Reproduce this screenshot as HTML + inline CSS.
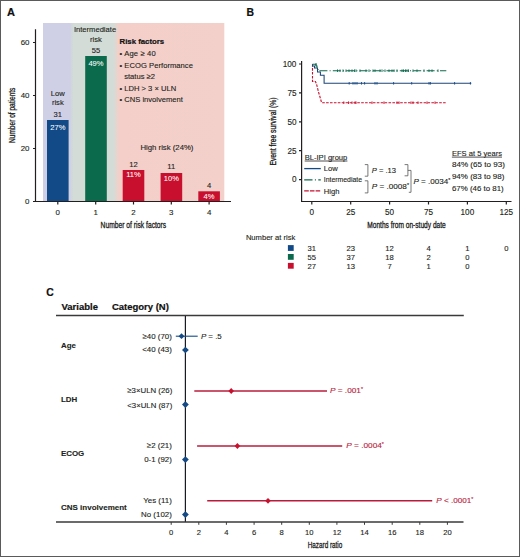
<!DOCTYPE html>
<html><head><meta charset="utf-8"><style>
html,body{margin:0;padding:0;background:#fff;}
svg{display:block;}
text{font-family:"Liberation Sans",sans-serif;fill:#231f20;stroke:#231f20;stroke-width:0.12px;}
.w{fill:#fff;stroke:#fff;stroke-width:0.05px;}
.r{fill:#b81c3c;stroke:#b81c3c;}
.cd{stroke-width:0.3px;fill:#1a1a1a;stroke:#1a1a1a;font-size:9px !important;}
.b{font-weight:bold;fill:#111;stroke:#111;stroke-width:0.2px;}
.t7{font-size:7.6px;}
.t8{font-size:7.9px;}
.w{fill:#fff;}
.ax{stroke:#231f20;stroke-width:1.2;fill:none;}
</style></head><body>
<svg width="520" height="557" viewBox="0 0 520 557">
<defs>
<linearGradient id="bg" x1="43" x2="224.3" y1="0" y2="0" gradientUnits="userSpaceOnUse">
<stop offset="0" stop-color="#cfd0e6"/>
<stop offset="0.148" stop-color="#cfd0e6"/>
<stop offset="0.168" stop-color="#d3dcd6"/>
<stop offset="0.39" stop-color="#d3dcd6"/>
<stop offset="0.418" stop-color="#f4cfc9"/>
<stop offset="1" stop-color="#f4d0ca"/>
</linearGradient>
</defs>
<rect x="0.5" y="0.5" width="519" height="556" fill="#fff" stroke="#5a5a5a" stroke-width="1"/>

<!-- ============ PANEL A ============ -->
<text x="6.9" y="16.2" class="b" style="font-size:11px">A</text>
<rect x="43" y="23" width="181.3" height="178.5" fill="url(#bg)"/>
<!-- bars -->
<rect x="47" y="120" width="21.6" height="81.5" fill="#124a88"/>
<rect x="85.2" y="56" width="21.6" height="145.5" fill="#0c6a4c"/>
<rect x="122.7" y="170" width="21.6" height="31.5" fill="#c8102e"/>
<rect x="160.6" y="173" width="21.6" height="28.5" fill="#c8102e"/>
<rect x="198.3" y="191.3" width="21.6" height="10.2" fill="#c8102e"/>
<!-- axes -->
<path class="ax" d="M35.5,29.3 V201.5 H231 M33,42.5 H35.5 M33,95.5 H35.5 M33,148.5 H35.5 M33,201.5 H35.5 M57.8,201.5 V204.5 M95.7,201.5 V204.5 M133.5,201.5 V204.5 M171.3,201.5 V204.5 M209.1,201.5 V204.5"/>
<g class="t8" text-anchor="end">
<text x="29.5" y="45.3">60</text>
<text x="29.5" y="98.3">40</text>
<text x="29.5" y="151.3">20</text>
<text x="29.5" y="204.3">0</text>
</g>
<g class="t8" text-anchor="middle">
<text x="57.8" y="214.5">0</text>
<text x="95.7" y="214.5">1</text>
<text x="133.5" y="214.5">2</text>
<text x="171.3" y="214.5">3</text>
<text x="209.1" y="214.5">4</text>
<text x="133.4" y="227.7" style="font-size:8.6px" textLength="65.6" lengthAdjust="spacingAndGlyphs" class="cd">Number of risk factors</text>
<text transform="translate(15,115.3) rotate(-90)" x="0" y="0" style="font-size:8.6px" textLength="55.4" lengthAdjust="spacingAndGlyphs" class="cd">Number of patients</text>
</g>
<g class="t7" text-anchor="middle">
<text x="57.8" y="95.8">Low</text>
<text x="57.8" y="105.4">risk</text>
<text x="57.8" y="116.9">31</text>
<text x="57.8" y="129.5" class="w">27%</text>
<text x="95" y="32.1">Intermediate</text>
<text x="96" y="41.7">risk</text>
<text x="96" y="52.9">55</text>
<text x="96" y="65.6" class="w">49%</text>
<text x="133.5" y="166.7">12</text>
<text x="133.5" y="177.3" class="w">11%</text>
<text x="171.3" y="169.3">11</text>
<text x="171.3" y="181.1" class="w">10%</text>
<text x="209.1" y="188">4</text>
<text x="209.1" y="199" class="w">4%</text>
</g>
<text x="140.5" y="149.8" class="t7" textLength="52.9" lengthAdjust="spacingAndGlyphs">High risk (24%)</text>
<text x="119.5" y="44.2" class="b" style="font-size:7.8px">Risk factors</text>
<g class="t7">
<text x="119.5" y="56" textLength="36.2" lengthAdjust="spacing">• Age ≥ 40</text>
<text x="119.5" y="67.7" textLength="73.4" lengthAdjust="spacing">• ECOG Performance</text>
<text x="124.2" y="79.3">status ≥2</text>
<text x="119.5" y="90.9">• LDH &gt; 3 × ULN</text>
<text x="119.5" y="102.3">• CNS involvement</text>
</g>

<!-- ============ PANEL B ============ -->
<text x="246.6" y="16.3" class="b" style="font-size:10.4px">B</text>
<path class="ax" d="M301.6,61 V201.5 H511.5 M299,64 H301.6 M299,92.9 H301.6 M299,121.8 H301.6 M299,150.7 H301.6 M299,179.6 H301.6 M311.8,201.5 V204.5 M350.7,201.5 V204.5 M389.6,201.5 V204.5 M428.5,201.5 V204.5 M467.4,201.5 V204.5 M506.3,201.5 V204.5"/>
<g class="t8" text-anchor="end" style="font-size:8.2px">
<text x="296.3" y="66.9">100</text>
<text x="296.5" y="95.7">75</text>
<text x="296.5" y="124.6">50</text>
<text x="296.5" y="153.5">25</text>
<text x="296.5" y="182.4">0</text>
</g>
<g class="t8" text-anchor="middle" style="font-size:8.2px">
<text x="311.8" y="214.6">0</text>
<text x="350.7" y="214.5">25</text>
<text x="389.6" y="214.5">50</text>
<text x="428.5" y="214.5">75</text>
<text x="467.4" y="214.5">100</text>
<text x="506.3" y="214.5">125</text>
<text x="406.5" y="227.5" style="font-size:8.6px" textLength="78.5" lengthAdjust="spacingAndGlyphs" class="cd">Months from on-study date</text>
<text transform="translate(276.4,131.6) rotate(-90)" x="0" y="0" style="font-size:8.6px" textLength="68" lengthAdjust="spacingAndGlyphs" class="cd">Event free survival (%)</text>
</g>
<!-- KM curves -->
<path d="M312.5,64.2 V81.5 H315.4 L316.5,84 L317.5,88 L318.5,92 L320,97 L321.6,102.7 H446.3" fill="none" stroke="#c8102e" stroke-width="1.1" stroke-dasharray="2.6,1.3"/>
<path d="M312.5,64.2 V66 H314.5 V68 H317.5 V72 H320.4 V75.3 H324.1 V83.3 H471.3" fill="none" stroke="#1c4479" stroke-width="1.05"/>
<path d="M312.5,64.2 H316 V66 H317 V68.5 H318 V70.7 H446.3" fill="none" stroke="#0c6a4c" stroke-width="1.1" stroke-dasharray="8,2.2,1,2.2"/>
<!-- censor marks -->
<g stroke="#124a88" stroke-width="0.9">
<path d="M349.2,82 V84.6 M353,82 V84.6 M355,82 V84.6 M357,82 V84.6 M361.5,82 V84.6 M364.6,82 V84.6 M375,82 V84.6 M377,82 V84.6 M393.6,82 V84.6 M411.7,82 V84.6 M429,82 V84.6 M430.4,82 V84.6 M454.6,82 V84.6 M470.4,82 V84.6"/>
</g>
<g stroke="#0c6a4c" stroke-width="0.9">
<path d="M316,63 V66 M337.5,69.4 V72 M340,69.4 V72 M343,69.4 V72 M346,69.4 V72 M349,69.4 V72 M352,69.4 V72 M354.5,69.4 V72 M356,69.4 V72 M360,69.4 V72 M366,69.4 V72 M369,69.4 V72 M373,69.4 V72 M375,69.4 V72 M380,69.4 V72 M382,69.4 V72 M385,69.4 V72 M389,69.4 V72 M392,69.4 V72 M394,69.4 V72 M397,69.4 V72 M402,69.4 V72 M403.5,69.4 V72 M405.5,69.4 V72 M407,69.4 V72 M408.5,69.4 V72 M413,69.4 V72 M417,69.4 V72 M424,69.4 V72 M429,69.4 V72 M432,69.4 V72 M438,69.4 V72"/>
</g>
<g stroke="#c8102e" stroke-width="0.9">
<path d="M343.8,101.4 V104 M348.5,101.4 V104 M352,101.4 V104 M355,101.4 V104 M356,101.4 V104 M372,101.4 V104 M384,101.4 V104 M397,101.4 V104 M399,101.4 V104 M411,101.4 V104 M413,101.4 V104 M418,101.4 V104 M427,101.4 V104 M435,101.4 V104"/>
</g>
<!-- legend -->
<text x="304.7" y="160" class="t7">BL-IPI group</text>
<path d="M304.7,161 H347.4" stroke="#231f20" stroke-width="0.8"/>
<path d="M304.2,168.6 H320.8" stroke="#124a88" stroke-width="1.3"/>
<path d="M304.2,179.8 H320.8" stroke="#0c6a4c" stroke-width="1.3" stroke-dasharray="8.3,2.4,1,2.4"/>
<path d="M304.2,190.9 H320.8" stroke="#c8102e" stroke-width="1.3" stroke-dasharray="4.6,1.1"/>
<g class="t7">
<text x="323.8" y="170.6">Low</text>
<text x="323.8" y="182.2" textLength="38.2" lengthAdjust="spacingAndGlyphs">Intermediate</text>
<text x="323.8" y="193.6">High</text>
</g>
<g fill="none" stroke="#555" stroke-width="0.8">
<path d="M364.8,164.6 H367.9 V176.2 H364.8"/>
<path d="M364.8,180.8 H367.9 V192.9 H364.8"/>
<path d="M404.6,164.6 H407.9 V175.8 H404.6 M407.9,170.4 H411 V192.3 H408.8"/>
</g>
<g class="t7">
<text x="371.7" y="172.5"><tspan font-style="italic">P</tspan> = .13</text>
<text x="371.7" y="188.8" textLength="37.3" lengthAdjust="spacingAndGlyphs"><tspan font-style="italic">P</tspan> = .0008<tspan dy="-2" font-size="5">*</tspan></text>
<text x="413.4" y="183.8" textLength="36.9" lengthAdjust="spacingAndGlyphs"><tspan font-style="italic">P</tspan> = .0034<tspan dy="-2" font-size="5">*</tspan></text>
<text x="451.9" y="156.2">EFS at 5 years</text>
<text x="451.9" y="167.2" textLength="53" lengthAdjust="spacingAndGlyphs">84% (65 to 93)</text>
<text x="451.9" y="179.2" textLength="52.5" lengthAdjust="spacingAndGlyphs">94% (83 to 98)</text>
<text x="451.9" y="191.2" textLength="51.8" lengthAdjust="spacingAndGlyphs">67% (46 to 81)</text>
</g>
<path d="M451.9,157.1 H502" stroke="#231f20" stroke-width="0.8"/>
<!-- number at risk -->
<text x="245.9" y="240.2" class="t7">Number at risk</text>
<rect x="287.9" y="245.1" width="5.8" height="5.8" fill="#124a88"/>
<rect x="287.9" y="254" width="5.8" height="5.8" fill="#0c6a4c"/>
<rect x="287.9" y="262.9" width="5.8" height="5.8" fill="#c8102e"/>
<g class="t7" text-anchor="middle">
<text x="311.8" y="250.6">31</text><text x="350.7" y="250.6">23</text><text x="389.6" y="250.6">12</text><text x="428.5" y="250.6">4</text><text x="467.4" y="250.6">1</text><text x="506.3" y="250.6">0</text>
<text x="311.8" y="259.5">55</text><text x="350.7" y="259.5">37</text><text x="389.6" y="259.5">18</text><text x="428.5" y="259.5">2</text><text x="467.4" y="259.5">0</text>
<text x="311.8" y="268.5">27</text><text x="350.7" y="268.5">13</text><text x="389.6" y="268.5">7</text><text x="428.5" y="268.5">1</text><text x="467.4" y="268.5">0</text>
</g>

<!-- ============ PANEL C ============ -->
<text x="46.2" y="295.5" class="b" style="font-size:10.4px">C</text>
<text x="61.5" y="309.6" class="b" style="font-size:9.5px">Variable</text>
<text x="111.9" y="309.6" class="b" style="font-size:9.5px">Category (N)</text>
<path d="M56,315.6 H463.8" stroke="#3a3a3a" stroke-width="1.5"/>
<path d="M185.4,316 V522" stroke="#1a1a24" stroke-width="1.2"/>
<path d="M56,522 H463.5" stroke="#3a3a3a" stroke-width="1.5"/>
<path stroke="#3a3a3a" stroke-width="1" d="M171.2,522 V524.8 M198.8,522 V524.8 M226.4,522 V524.8 M254.1,522 V524.8 M281.7,522 V524.8 M309.3,522 V524.8 M336.9,522 V524.8 M364.5,522 V524.8 M392.2,522 V524.8 M419.8,522 V524.8 M447.4,522 V524.8"/>
<g class="t7" text-anchor="middle">
<text x="171.2" y="534.8">0</text><text x="198.8" y="534.8">2</text><text x="226.4" y="534.8">4</text><text x="254.1" y="534.8">6</text><text x="281.7" y="534.8">8</text><text x="309.3" y="534.8">10</text><text x="336.9" y="534.8">12</text><text x="364.5" y="534.8">14</text><text x="392.2" y="534.8">16</text><text x="419.8" y="534.8">18</text><text x="447.4" y="534.8">20</text>
<text x="325" y="547.7" style="font-size:8.6px" textLength="34.6" lengthAdjust="spacingAndGlyphs" class="cd">Hazard ratio</text>
</g>
<g class="b" style="font-size:7.9px">
<text x="61" y="348">Age</text>
<text x="61" y="402.1">LDH</text>
<text x="61" y="455.6">ECOG</text>
<text x="61" y="510.3" textLength="65.8" lengthAdjust="spacingAndGlyphs">CNS involvement</text>
</g>
<g class="t8" text-anchor="end">
<text x="171.8" y="338.5">≥40 (70)</text>
<text x="171.8" y="352.2">&lt;40 (43)</text>
<text x="172.3" y="393.4" textLength="45" lengthAdjust="spacingAndGlyphs">≥3×ULN (26)</text>
<text x="172.3" y="407.7" textLength="45" lengthAdjust="spacingAndGlyphs">&lt;3×ULN (87)</text>
<text x="171.8" y="447.5">≥2 (21)</text>
<text x="171.8" y="462.3">0-1 (92)</text>
<text x="171.8" y="503.2">Yes (11)</text>
<text x="171.8" y="516.8">No (102)</text>
</g>
<!-- CI lines -->
<path d="M175.8,336.2 H197.7" stroke="#124a88" stroke-width="1.1"/>
<path d="M194.3,391 H327" stroke="#b81c3c" stroke-width="1.5"/>
<path d="M197.1,446 H342.2" stroke="#b81c3c" stroke-width="1.5"/>
<path d="M207.2,500.8 H432.2" stroke="#b81c3c" stroke-width="1.5"/>
<!-- diamonds -->
<g fill="#134a85">
<path d="M181.5,333.3 L184.4,336.2 L181.5,339.1 L178.6,336.2Z"/>
<path d="M185.4,346.7 L188.8,350 L185.4,353.3 L182.0,350Z"/>
<path d="M185.4,401.3 L188.8,404.6 L185.4,407.9 L182.0,404.6Z"/>
<path d="M185.4,456.3 L188.8,459.6 L185.4,462.9 L182.0,459.6Z"/>
<path d="M185.4,511.3 L188.8,514.6 L185.4,517.9 L182.0,514.6Z"/>
</g>
<g fill="#c8102e">
<path d="M231.2,388.1 L234.0,391 L231.2,393.9 L228.4,391Z"/>
<path d="M237.4,443.1 L240.2,446 L237.4,448.9 L234.6,446Z"/>
<path d="M268,497.9 L270.8,500.8 L268,503.7 L265.2,500.8Z"/>
</g>
<g class="t8">
<text x="200.9" y="338.6"><tspan font-style="italic">P</tspan> = .5</text>
</g>
<g class="t8" style="fill:#c8102e">
<text x="329.9" y="393.2" class="r" textLength="33.1" lengthAdjust="spacingAndGlyphs"><tspan font-style="italic">P</tspan> = .001<tspan dy="-2" font-size="5">*</tspan></text>
<text x="346.2" y="448.1" class="r" textLength="37.7" lengthAdjust="spacingAndGlyphs"><tspan font-style="italic">P</tspan> = .0004<tspan dy="-2" font-size="5">*</tspan></text>
<text x="436.2" y="503.4" class="r" textLength="37.1" lengthAdjust="spacingAndGlyphs"><tspan font-style="italic">P</tspan> &lt; .0001<tspan dy="-2" font-size="5">*</tspan></text>
</g>
</svg>
</body></html>
